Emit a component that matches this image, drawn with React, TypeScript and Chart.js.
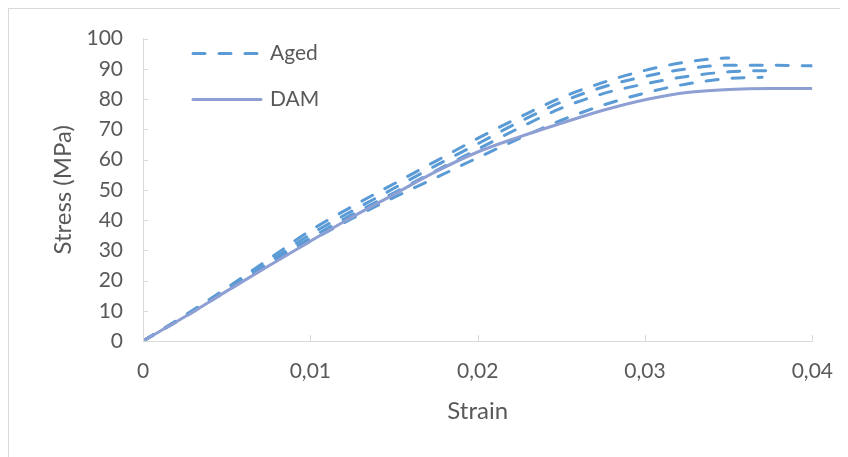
import React, { useEffect, useRef } from "react";
import { Chart, registerables } from "chart.js";

Chart.register(...registerables);

const strainSteps = [0, 0.0025, 0.005, 0.0075, 0.01, 0.0125, 0.015, 0.0175, 0.02, 0.0225, 0.025, 0.0275, 0.03, 0.0325, 0.035, 0.0375, 0.04];
const stressDAM = [0, 8, 16.5, 24.8, 33, 41, 48.5, 56, 62.5, 67.5, 72, 76.3, 79.8, 82.2, 83.2, 83.5, 83.5];

const strainAged1 = [0, 0.0025, 0.005, 0.0075, 0.01, 0.0125, 0.015, 0.0175, 0.02, 0.0225, 0.025, 0.0275, 0.03, 0.0325, 0.0345, 0.035];
const stressAged1 = [0, 8.5, 17.5, 27, 36.5, 44.5, 52, 59.5, 67, 74, 80.5, 85.5, 89.5, 92.3, 93.5, 93.6];

const strainAged2 = strainSteps;
const stressAged2 = [0, 8.3, 17, 26, 35.2, 43, 50.5, 58, 65.2, 72.5, 79, 84, 87.5, 90, 91.2, 91.2, 91];

const strainAged3 = [0, 0.0025, 0.005, 0.0075, 0.01, 0.0125, 0.015, 0.0175, 0.02, 0.0225, 0.025, 0.0275, 0.03, 0.0325, 0.035, 0.038];
const stressAged3 = [0, 8.2, 16.8, 25.5, 34, 41.8, 49, 56.3, 63.4, 70.5, 77, 81.8, 85, 87.5, 89, 89.5];

const strainAged4 = [0, 0.0025, 0.005, 0.0075, 0.01, 0.0125, 0.015, 0.0175, 0.02, 0.0225, 0.025, 0.0275, 0.03, 0.0325, 0.035, 0.037];
const stressAged4 = [0, 8, 16.5, 25, 33, 40.5, 47.5, 54, 60.6, 67, 73, 78, 82, 85, 86.8, 87.2];

const xTicks = [0, 0.01, 0.02, 0.03, 0.04];
const xTickLabels = ["0", "0,01", "0,02", "0,03", "0,04"];
const yTicks = [0, 10, 20, 30, 40, 50, 60, 70, 80, 90, 100];

const AGED_COLOR = "#5B9BD5";
const DAM_COLOR = "#8E9FD4";
const TEXT_COLOR = "#595959";
const AXIS_COLOR = "#D9D9D9";
const FONT = "Lato, 'Open Sans', sans-serif";

const toPoints = (xs: number[], ys: number[]) => xs.map((x, i) => ({ x, y: ys[i] }));

const insideTicks = {
  id: "insideTicks",
  afterDraw(chart: any) {
    const { ctx, chartArea, scales } = chart;
    ctx.save();
    ctx.strokeStyle = AXIS_COLOR;
    ctx.lineWidth = 1;
    ctx.beginPath();
    yTicks.forEach((v) => {
      const y = Math.round(scales.y.getPixelForValue(v)) + 0.5;
      ctx.moveTo(chartArea.left, y);
      ctx.lineTo(chartArea.left + 5, y);
    });
    xTicks.forEach((v) => {
      const x = Math.round(scales.x.getPixelForValue(v)) + 0.5;
      ctx.moveTo(x, chartArea.bottom);
      ctx.lineTo(x, chartArea.bottom - 6);
    });
    ctx.stroke();
    ctx.restore();
  },
};

const legendPlugin = {
  id: "customLegend",
  afterDraw(chart: any) {
    const { ctx, chartArea } = chart;
    const x0 = chartArea.left + 50;
    const x1 = chartArea.left + 118;
    const items = [
      { label: "Aged", color: AGED_COLOR, dash: [12, 14], y: chartArea.top + 15 },
      { label: "DAM", color: DAM_COLOR, dash: [], y: chartArea.top + 61 },
    ];
    ctx.save();
    items.forEach((it) => {
      ctx.strokeStyle = it.color;
      ctx.lineWidth = 3;
      ctx.lineCap = "round";
      ctx.setLineDash(it.dash);
      ctx.beginPath();
      ctx.moveTo(x0, it.y);
      ctx.lineTo(x1, it.y);
      ctx.stroke();
      ctx.setLineDash([]);
      ctx.fillStyle = TEXT_COLOR;
      ctx.font = `21px ${FONT}`;
      ctx.textBaseline = "middle";
      ctx.textAlign = "left";
      ctx.fillText(it.label, x1 + 9, it.y);
    });
    ctx.restore();
  },
};

export default function App() {
  const ref = useRef<HTMLCanvasElement | null>(null);

  useEffect(() => {
    if (!ref.current) return;
    const agedStyle = {
      borderColor: AGED_COLOR,
      backgroundColor: AGED_COLOR,
      borderWidth: 3,
      borderDash: [12, 14],
      borderCapStyle: "round" as const,
      pointRadius: 0,
      fill: false,
      cubicInterpolationMode: "monotone" as const,
      showLine: true,
    };
    const chart = new Chart(ref.current, {
      type: "scatter",
      data: {
        datasets: [
          { label: "DAM", data: toPoints(strainSteps, stressDAM), borderColor: DAM_COLOR, backgroundColor: DAM_COLOR, borderWidth: 3, pointRadius: 0, showLine: true, cubicInterpolationMode: "monotone", fill: false },
          { label: "Aged", data: toPoints(strainAged1, stressAged1), ...agedStyle },
          { label: "Aged 2", data: toPoints(strainAged2, stressAged2), ...agedStyle },
          { label: "Aged 3", data: toPoints(strainAged3, stressAged3), ...agedStyle },
          { label: "Aged 4", data: toPoints(strainAged4, stressAged4), ...agedStyle },
        ],
      },
      options: {
        animation: false,
        responsive: false,
        maintainAspectRatio: false,
        layout: { padding: { left: 0, top: 25, right: 34, bottom: 0 } },
        plugins: { legend: { display: false }, tooltip: { enabled: false } },
        scales: {
          x: {
            type: "linear",
            min: 0,
            max: 0.04,
            afterFit: (s: any) => { s.height = 116; },
            afterBuildTicks: (s: any) => { s.ticks = xTicks.map((v) => ({ value: v })); },
            grid: { display: true, drawOnChartArea: false, drawTicks: false },
            border: { display: true, color: AXIS_COLOR, width: 1 },
            ticks: {
              padding: 18,
              color: TEXT_COLOR,
              font: { family: FONT, size: 21 },
              maxRotation: 0,
              callback: (v: any) => { const i = xTicks.indexOf(Number(v)); return i >= 0 ? xTickLabels[i] : ""; },
            },
            title: { display: true, text: "Strain", color: TEXT_COLOR, font: { family: FONT, size: 24 }, padding: { top: 0, bottom: 31 } },
          },
          y: {
            type: "linear",
            min: 0,
            max: 100,
            afterFit: (s: any) => { s.width = 134; },
            afterBuildTicks: (s: any) => { s.ticks = yTicks.map((v) => ({ value: v })); },
            grid: { display: true, drawOnChartArea: false, drawTicks: false },
            border: { display: true, color: AXIS_COLOR, width: 1 },
            ticks: { padding: 20, color: TEXT_COLOR, font: { family: FONT, size: 21 } },
            title: { display: true, text: "Stress (MPa)", color: TEXT_COLOR, font: { family: FONT, size: 24 }, padding: { top: 40, bottom: 0 } },
          },
        },
      },
      plugins: [insideTicks, legendPlugin],
    });
    return () => chart.destroy();
  }, []);

  return (
    <div style={{ width: 840, height: 449, borderTop: "1px solid #D9D9D9", borderLeft: "1px solid #D9D9D9", boxSizing: "border-box", overflow: "hidden", background: "#fff" }}>
      <canvas ref={ref} width={842} height={451} style={{ display: "block", marginTop: -3 }} />
    </div>
  );
}
